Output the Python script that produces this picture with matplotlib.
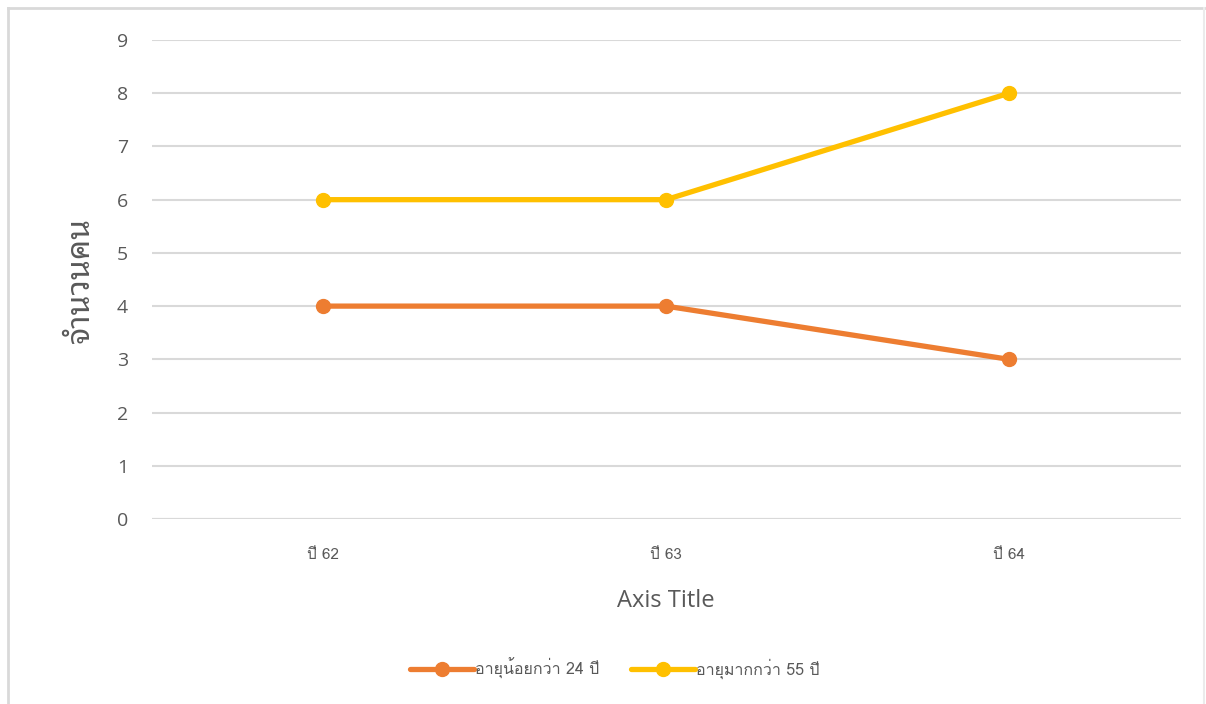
import matplotlib
matplotlib.use("Agg")
import matplotlib.pyplot as plt
from matplotlib.lines import Line2D

# Data
years = ["ปี 62", "ปี 63", "ปี 64"]
under_24 = [4, 4, 3]
over_55 = [6, 6, 8]
series_labels = ["อายุน้อยกว่า 24 ปี", "อายุมากกว่า 55 ปี"]
y_ticks = list(range(0, 10))

ORANGE = "#ED7D31"
YELLOW = "#FFC000"
GRID = "#D9D9D9"
TEXT = "#595959"
UI_FONT = ["Open Sans", "Noto Sans Thai Looped", "DejaVu Sans"]
SMALL_FONT = ["Loma", "Noto Sans Thai Looped", "DejaVu Sans"]

fig = plt.figure(figsize=(12.06, 7.04), dpi=100)
fig.patch.set_facecolor("white")

# Chart-area frame (left, top and right edges)
fig.add_artist(Line2D([8 / 1206, 8 / 1206], [0, 1 - 8 / 704],
                      transform=fig.transFigure, color=GRID, lw=2))
fig.add_artist(Line2D([8 / 1206, 1204 / 1206], [1 - 8 / 704, 1 - 8 / 704],
                      transform=fig.transFigure, color=GRID, lw=2))
fig.add_artist(Line2D([1204 / 1206, 1204 / 1206], [0, 1 - 8 / 704],
                      transform=fig.transFigure, color="#EBEBEB", lw=1.5))

left, right = 151.5 / 1206, 1180.5 / 1206
top, bottom = 1 - 40 / 704, 1 - 519 / 704
ax = fig.add_axes([left, bottom, right - left, top - bottom])

x = list(range(len(years)))
ax.plot(x, under_24, color=ORANGE, lw=3.8, marker="o", markersize=10,
        solid_capstyle="round", label=series_labels[0], zorder=3)
ax.plot(x, over_55, color=YELLOW, lw=3.8, marker="o", markersize=10,
        solid_capstyle="round", label=series_labels[1], zorder=3)

ax.set_xlim(-0.5, len(years) - 0.5)
ax.set_ylim(0, 9)
ax.set_yticks(y_ticks)
ax.yaxis.grid(True, color=GRID, lw=1.5)
ax.set_axisbelow(True)
for s in ax.spines.values():
    s.set_visible(False)
ax.axhline(0, color=GRID, lw=1.5, zorder=1)
ax.tick_params(axis="both", length=0)
ax.tick_params(axis="y", pad=17, labelsize=14, labelcolor=TEXT)
for t in ax.get_yticklabels():
    t.set_fontfamily(UI_FONT)

ax.set_xticks(x)
ax.set_xticklabels(years, fontsize=11, color=TEXT, family=SMALL_FONT)
ax.tick_params(axis="x", pad=21)

ax.set_xlabel("Axis Title", fontsize=17, color=TEXT, family=UI_FONT, labelpad=19)
ax.set_ylabel("จำนวนคน", fontsize=23, color=TEXT, fontweight="light",
              family=["Noto Sans Thai Looped", "DejaVu Sans"], labelpad=14)

leg = fig.legend(loc="center", bbox_to_anchor=(615 / 1206, 1 - 668 / 704), ncol=2,
                 frameon=False, handlelength=4.0, columnspacing=2.0,
                 handletextpad=0.05,
                 prop={"family": SMALL_FONT, "size": 11.5})
for t in leg.get_texts():
    t.set_color(TEXT)

fig.savefig("out.png", dpi=100, facecolor="white")
